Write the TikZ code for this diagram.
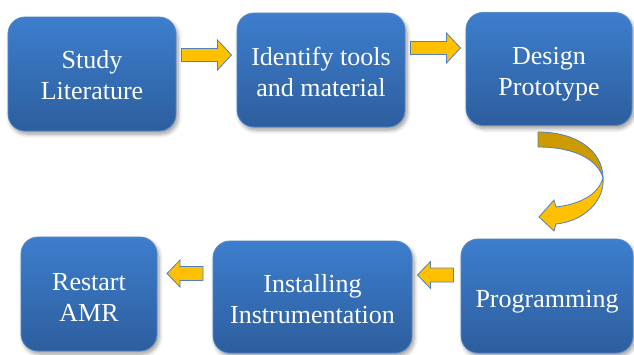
\documentclass[tikz,border=0pt]{standalone}
\usepackage{fontspec}
\setmainfont{Liberation Serif}
\usetikzlibrary{shadows.blur,calc}

\definecolor{boxtop}{RGB}{61,126,205}
\definecolor{boxbot}{RGB}{45,94,158}
\definecolor{boxline}{RGB}{84,134,196}
\definecolor{gold}{RGB}{255,192,0}
\definecolor{darkgold}{RGB}{205,155,0}
\definecolor{arrowline}{RGB}{79,129,189}

\tikzset{
  stepbox/.style={draw=boxline, line width=0.8pt, rounded corners=17pt,
    top color=boxtop, bottom color=boxbot, text=white, align=center,
    inner sep=0pt, font=\fontsize{26}{31}\selectfont,
    blur shadow={shadow xshift=2pt, shadow yshift=-3pt, shadow blur steps=6,
      shadow opacity=40, shadow blur radius=4pt}},
  % fixes the text block's extent so its last baseline sits at centre + #1/2
  textlift/.style={text height=#1, text depth=0pt},
  blockarrow/.style={fill=gold, draw=arrowline, line width=0.8pt, line join=miter},
  pics/bigright/.style={code={
    \path[blockarrow] (-25,-6.5) -- (11,-6.5) -- (11,-15) -- (25,0) -- (11,15)
      -- (11,6.5) -- (-25,6.5) -- cycle;}},
  pics/smallleft/.style={code={
    \path[blockarrow] (18,-7) -- (-5,-7) -- (-5,-13.5) -- (-18,0) -- (-5,13.5)
      -- (-5,7) -- (18,7) -- cycle;}},
}

\begin{document}
\begin{tikzpicture}[x=1pt,y=-1pt]
\useasboundingbox (0,0) rectangle (634,354);

% process steps
\node[stepbox, minimum width=168pt, minimum height=114pt, textlift=51pt] (lit)   at (92,74)    {Study\\Literature};
\node[stepbox, minimum width=168pt, minimum height=114pt, textlift=52pt] (tools) at (321,70)   {Identify tools\\and material};
\node[stepbox, minimum width=166pt, minimum height=113pt, textlift=53pt] (proto) at (549,69)   {Design\\Prototype};
\node[stepbox, minimum width=136pt, minimum height=114pt, textlift=54pt] (amr)   at (89,294)   {Restart\\AMR};
\node[stepbox, minimum width=199pt, minimum height=112pt, textlift=52pt] (inst)  at (312.5,297) {Installing\\Instrumentation};
\node[stepbox, minimum width=172pt, minimum height=114pt, textlift=22pt] (prog)  at (547,296)  {Programming};

% straight block arrows between the steps
\pic at ($(lit.east)!0.5!(tools.west)+(0,-17)$) {bigright};
\pic at ($(tools.east)!0.5!(proto.west)+(0,-21.5)$) {bigright};
\pic at ($(inst.east)!0.5!(prog.west)+(-1,-21.5)$) {smallleft};
\pic at ($(amr.east)!0.5!(inst.west)+(0,-22)$) {smallleft};

% curved arrow from the top row down to the bottom row
\path[blockarrow, fill=darkgold]
  (538,132) .. controls (578,132) and (603,152) .. (603,178)
  .. controls (598,160) and (575,147) .. (538,147) -- cycle;
\path[blockarrow]
  (603,178) .. controls (598,195) and (580,204) .. (556,207)
  -- (554,200) -- (539,217) -- (554,231) -- (556,224)
  .. controls (585,221) and (605,200) .. (603,178) -- cycle;
\end{tikzpicture}
\end{document}
